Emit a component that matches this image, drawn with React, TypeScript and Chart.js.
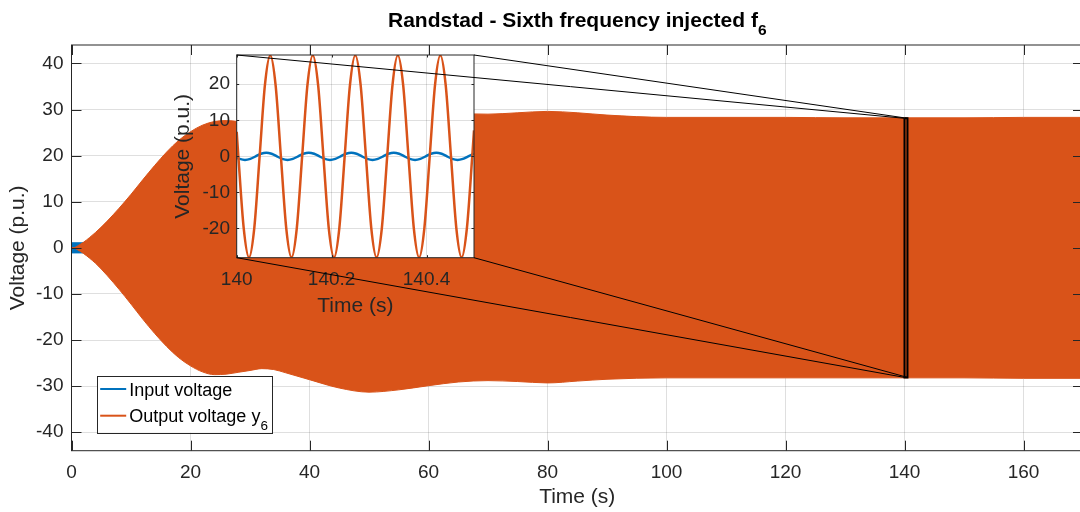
import React, { useEffect, useRef } from 'react';
import { Chart, registerables } from 'chart.js';

Chart.register(...registerables);

const BLUE = '#0072BD';
const ORANGE = '#D95319';
const AXIS = '#262626';
const GRID = 'rgba(38,38,38,0.15)';
const FONT = '"Liberation Sans", Arial, Helvetica, sans-serif';

// ---------- texts ----------
const titleMain = 'Randstad - Sixth frequency injected f';
const titleSub = '6';
const xLabel = 'Time (s)';
const yLabel = 'Voltage (p.u.)';
const legendLabels = ['Input voltage', 'Output voltage y'];
const legendSubs = ['', '6'];

// ---------- main axes ----------
const mainXRange = [0, 170];
const mainYRange = [-44, 44];
const mainXTicks = [0, 20, 40, 60, 80, 100, 120, 140, 160];
const mainXTickLabels = ['0', '20', '40', '60', '80', '100', '120', '140', '160'];
const mainYTicks = [-40, -30, -20, -10, 0, 10, 20, 30, 40];
const mainYTickLabels = ['-40', '-30', '-20', '-10', '0', '10', '20', '30', '40'];

// input voltage envelope (dense oscillation, amplitude ~1.1)
const inputTimes = [0, 170];
const inputUpper = [1.1, 1.1];
const inputLower = [-1.1, -1.1];

// output voltage y6 envelope (dense oscillation)
const outputTimes = [0, 0.5, 1, 2, 3, 4, 5, 6, 8, 10, 12, 14, 16, 18, 20, 22, 24, 26, 28, 30, 32, 34, 36, 40, 45, 50, 55, 60, 65, 70, 75, 80, 85, 90, 100, 110, 120, 130, 140, 150, 160, 170];
const outputUpper = [0, 0.05, 0.4, 1.2, 2.2, 3.3, 4.5, 5.8, 8.6, 11.6, 14.8, 17.9, 20.8, 23.3, 25.2, 26.6, 27.4, 27.6, 27.4, 27.0, 26.7, 26.9, 27.5, 28.9, 30.4, 31.0, 30.6, 29.8, 29.2, 29.0, 29.3, 29.6, 29.3, 28.8, 28.3, 28.3, 28.3, 28.2, 28.2, 28.2, 28.3, 28.3];
const outputLower = [0, -0.05, -0.4, -1.2, -2.2, -3.3, -4.6, -6.0, -9.0, -12.2, -15.5, -18.6, -21.4, -23.8, -25.6, -26.9, -27.5, -27.4, -27.0, -26.6, -26.2, -26.4, -27.1, -28.6, -30.4, -31.3, -30.8, -29.9, -29.1, -28.8, -29.0, -29.3, -28.9, -28.5, -28.2, -28.2, -28.2, -28.2, -28.2, -28.2, -28.3, -28.3];

// zoomed window
const zoomTimes = [140, 140.5];
const zoomVolts = [-28.1, 28.1];

// ---------- inset axes ----------
const insetXTicks = [140, 140.2, 140.4];
const insetXTickLabels = ['140', '140.2', '140.4'];
const insetYTicks = [-20, -10, 0, 10, 20];
const insetYTickLabels = ['-20', '-10', '0', '10', '20'];

const insetOutputTimes = [140.0, 140.0035, 140.0147, 140.0259, 140.0371, 140.0483, 140.0595, 140.0707, 140.0819, 140.0931, 140.1043, 140.1155, 140.1267, 140.1379, 140.1491, 140.1603, 140.1715, 140.1827, 140.1939, 140.2051, 140.2163, 140.2275, 140.2387, 140.2499, 140.2611, 140.2723, 140.2835, 140.2947, 140.3059, 140.3171, 140.3283, 140.3395, 140.3507, 140.3619, 140.3731, 140.3843, 140.3955, 140.4067, 140.4179, 140.4291, 140.4403, 140.4515, 140.4627, 140.4739, 140.4851, 140.4963, 140.5];
const insetOutputValues = [6.8, 0, -19.8, -28, -19.8, 0, 19.8, 28, 19.8, 0, -19.8, -28, -19.8, 0, 19.8, 28, 19.8, 0, -19.8, -28, -19.8, 0, 19.8, 28, 19.8, 0, -19.8, -28, -19.8, 0, 19.8, 28, 19.8, 0, -19.8, -28, -19.8, 0, 19.8, 28, 19.8, 0, -19.8, -28, -19.8, 0, 7.2];

const insetInputTimes = [140.0, 140.0063, 140.0175, 140.0287, 140.0399, 140.0511, 140.0623, 140.0735, 140.0847, 140.0959, 140.1071, 140.1183, 140.1295, 140.1407, 140.1519, 140.1631, 140.1743, 140.1855, 140.1966, 140.2078, 140.2190, 140.2302, 140.2414, 140.2526, 140.2638, 140.2750, 140.2862, 140.2974, 140.3086, 140.3198, 140.3310, 140.3422, 140.3534, 140.3646, 140.3758, 140.3870, 140.3982, 140.4094, 140.4206, 140.4318, 140.4430, 140.4542, 140.4654, 140.4766, 140.4878, 140.5];
const insetInputValues = [-0.35, -0.71, -1.0, -0.71, 0, 0.71, 1.0, 0.71, 0, -0.71, -1.0, -0.71, 0, 0.71, 1.0, 0.71, 0, -0.71, -1.0, -0.71, 0, 0.71, 1.0, 0.71, 0, -0.71, -1.0, -0.71, 0, 0.71, 1.0, 0.71, 0, -0.71, -1.0, -0.71, 0, 0.71, 1.0, 0.71, 0, -0.71, -1.0, -0.71, 0, 0.74];

const pts = (xs: number[], ys: number[]) => xs.map((x, i) => ({ x, y: ys[i] }));

const CANVAS_W = 1090;
const CANVAS_H = 512;

function drawBoxAndTicks(chart: any, tl: number) {
  const { ctx, chartArea: a, scales } = chart;
  ctx.save();
  ctx.strokeStyle = AXIS;
  ctx.lineWidth = 1;
  ctx.beginPath();
  for (const t of scales.x.ticks) {
    const px = Math.round(scales.x.getPixelForValue(t.value)) + 0.5;
    ctx.moveTo(px, a.bottom);
    ctx.lineTo(px, a.bottom - tl);
    ctx.moveTo(px, a.top);
    ctx.lineTo(px, a.top + tl);
  }
  for (const t of scales.y.ticks) {
    const py = Math.round(scales.y.getPixelForValue(t.value)) + 0.5;
    ctx.moveTo(a.left, py);
    ctx.lineTo(a.left + tl, py);
    ctx.moveTo(a.right, py);
    ctx.lineTo(a.right - tl, py);
  }
  ctx.stroke();
  ctx.strokeRect(a.left, a.top, a.right - a.left, a.bottom - a.top);
  ctx.restore();
}

const mainDecor = {
  id: 'mainDecor',
  afterDatasetsDraw(chart: any) {
    drawBoxAndTicks(chart, 10);
    const { ctx, chartArea: a } = chart;
    // legend (southwest)
    ctx.save();
    const fontMain = `18px ${FONT}`;
    const fontSub = `13.5px ${FONT}`;
    ctx.font = fontMain;
    const widths = legendLabels.map((l, i) => {
      ctx.font = fontMain;
      let w = ctx.measureText(l).width;
      if (legendSubs[i]) {
        ctx.font = fontSub;
        w += ctx.measureText(legendSubs[i]).width;
      }
      return w;
    });
    const boxL = a.left + 25.7;
    const boxB = a.bottom - 18;
    const boxT = boxB - 56.7;
    const textX = boxL + 32.1;
    const boxR = textX + Math.max(...widths) + 4;
    ctx.fillStyle = '#ffffff';
    ctx.fillRect(boxL, boxT, boxR - boxL, boxB - boxT);
    ctx.strokeStyle = AXIS;
    ctx.lineWidth = 1;
    ctx.strokeRect(Math.round(boxL) + 0.5, Math.round(boxT) + 0.5, Math.round(boxR - boxL), Math.round(boxB - boxT));
    const colors = [BLUE, ORANGE];
    const rowsY = [boxT + 13, boxT + 39.7];
    legendLabels.forEach((l, i) => {
      ctx.strokeStyle = colors[i];
      ctx.lineWidth = 2;
      ctx.beginPath();
      ctx.moveTo(boxL + 3, rowsY[i]);
      ctx.lineTo(boxL + 29, rowsY[i]);
      ctx.stroke();
      ctx.fillStyle = '#000000';
      ctx.font = fontMain;
      ctx.textAlign = 'left';
      ctx.textBaseline = 'alphabetic';
      const base = rowsY[i] + 6.6;
      ctx.fillText(l, textX, base);
      if (legendSubs[i]) {
        const w = ctx.measureText(l).width;
        ctx.font = fontSub;
        ctx.fillText(legendSubs[i], textX + w, base + 7.6);
      }
    });
    ctx.restore();
  },
  afterDraw(chart: any) {
    const { ctx, chartArea: a } = chart;
    ctx.save();
    const fMain = `bold 21px ${FONT}`;
    const fSub = `bold 15.5px ${FONT}`;
    ctx.font = fMain;
    const w1 = ctx.measureText(titleMain).width;
    ctx.font = fSub;
    const w2 = ctx.measureText(titleSub).width;
    const cx = (a.left + a.right) / 2;
    const x0 = cx - (w1 + w2) / 2;
    ctx.fillStyle = '#000000';
    ctx.textAlign = 'left';
    ctx.textBaseline = 'alphabetic';
    ctx.font = fMain;
    ctx.fillText(titleMain, x0, 26.7);
    ctx.font = fSub;
    ctx.fillText(titleSub, x0 + w1, 35);
    ctx.restore();
  },
};

export default function App() {
  const mainRef = useRef<HTMLCanvasElement>(null);
  const insetRef = useRef<HTMLCanvasElement>(null);

  useEffect(() => {
    if (!mainRef.current || !insetRef.current) return;
    Chart.defaults.font.family = FONT;

    const tickFont = { family: FONT, size: 19 };
    const titleFont = { family: FONT, size: 21 };

    const main = new Chart(mainRef.current, {
      type: 'line',
      data: {
        datasets: [
          {
            label: 'zoom box',
            data: [
              { x: zoomTimes[0], y: zoomVolts[1] },
              { x: zoomTimes[1], y: zoomVolts[1] },
              { x: zoomTimes[1], y: zoomVolts[0] },
              { x: zoomTimes[0], y: zoomVolts[0] },
              { x: zoomTimes[0], y: zoomVolts[1] },
            ],
            borderColor: '#000000',
            borderWidth: 2,
            pointRadius: 0,
            fill: false,
            tension: 0,
            order: 0,
          },
          {
            label: 'Output voltage y6',
            data: pts(outputTimes, outputUpper),
            borderColor: ORANGE,
            backgroundColor: ORANGE,
            borderWidth: 1,
            pointRadius: 0,
            fill: '+1',
            cubicInterpolationMode: 'monotone',
            order: 1,
          },
          {
            label: 'Output lower',
            data: pts(outputTimes, outputLower),
            borderColor: ORANGE,
            borderWidth: 1,
            pointRadius: 0,
            fill: false,
            cubicInterpolationMode: 'monotone',
            order: 1,
          },
          {
            label: 'Input voltage',
            data: pts(inputTimes, inputUpper),
            borderColor: BLUE,
            backgroundColor: BLUE,
            borderWidth: 1,
            pointRadius: 0,
            fill: '+1',
            order: 2,
          },
          {
            label: 'Input lower',
            data: pts(inputTimes, inputLower),
            borderColor: BLUE,
            borderWidth: 1,
            pointRadius: 0,
            fill: false,
            order: 2,
          },
        ],
      },
      options: {
        animation: false,
        responsive: false,
        maintainAspectRatio: false,
        devicePixelRatio: 1,
        events: [],
        layout: { padding: { left: 0, top: 45, right: CANVAS_W - 1083, bottom: 0 } },
        plugins: { legend: { display: false }, title: { display: false }, tooltip: { enabled: false } },
        scales: {
          x: {
            type: 'linear',
            min: mainXRange[0],
            max: mainXRange[1],
            afterBuildTicks: (s: any) => { s.ticks = mainXTicks.map((v) => ({ value: v })); },
            afterFit: (s: any) => { s.height = 61.3; },
            ticks: {
              callback: (_v: any, i: number) => mainXTickLabels[i],
              color: AXIS, font: tickFont, padding: 10.3, maxRotation: 0, autoSkip: false,
            },
            grid: { color: GRID, drawTicks: false },
            border: { display: false },
            title: { display: true, text: xLabel, color: AXIS, font: titleFont, padding: { top: 0, bottom: 1.7 } },
          },
          y: {
            type: 'linear',
            min: mainYRange[0],
            max: mainYRange[1],
            afterBuildTicks: (s: any) => { s.ticks = mainYTicks.map((v) => ({ value: v })); },
            afterFit: (s: any) => { s.width = 71.5; },
            ticks: {
              callback: (_v: any, i: number) => mainYTickLabels[i],
              color: AXIS, font: tickFont, padding: 8, autoSkip: false,
            },
            grid: { color: GRID, drawTicks: false },
            border: { display: false },
            title: { display: true, text: yLabel, color: AXIS, font: titleFont, padding: { top: 5.9, bottom: 0 } },
          },
        },
      },
      plugins: [mainDecor],
    } as any);

    const insetDecor = {
      id: 'insetDecor',
      beforeDraw(chart: any) {
        const { ctx, chartArea: a } = chart;
        ctx.save();
        ctx.fillStyle = '#ffffff';
        ctx.fillRect(a.left, a.top, a.right - a.left, a.bottom - a.top);
        ctx.restore();
      },
      afterDatasetsDraw(chart: any) {
        drawBoxAndTicks(chart, 2.5);
      },
      afterDraw(chart: any) {
        const { ctx, chartArea: a } = chart;
        const mx = main.scales.x;
        const my = main.scales.y;
        const l = mx.getPixelForValue(zoomTimes[0]);
        const r = mx.getPixelForValue(zoomTimes[1]);
        const t = my.getPixelForValue(zoomVolts[1]);
        const b = my.getPixelForValue(zoomVolts[0]);
        ctx.save();
        ctx.strokeStyle = '#000000';
        ctx.lineWidth = 1;
        ctx.beginPath();
        ctx.moveTo(a.left, a.top); ctx.lineTo(l, t);
        ctx.moveTo(a.right, a.top); ctx.lineTo(r, t);
        ctx.moveTo(a.left, a.bottom); ctx.lineTo(l, b);
        ctx.moveTo(a.right, a.bottom); ctx.lineTo(r, b);
        ctx.stroke();
        ctx.restore();
      },
    };

    const insetL = 236.7, insetR = 474, insetT = 55, insetB = 257.7;
    const insetYW = 70, insetXH = 62.6;

    const inset = new Chart(insetRef.current, {
      type: 'line',
      data: {
        datasets: [
          {
            label: 'Output voltage y6',
            data: pts(insetOutputTimes, insetOutputValues),
            borderColor: ORANGE,
            borderWidth: 2.5,
            pointRadius: 0,
            fill: false,
            cubicInterpolationMode: 'monotone',
            order: 0,
          },
          {
            label: 'Input voltage',
            data: pts(insetInputTimes, insetInputValues),
            borderColor: BLUE,
            borderWidth: 2.5,
            pointRadius: 0,
            fill: false,
            cubicInterpolationMode: 'monotone',
            order: 1,
          },
        ],
      },
      options: {
        animation: false,
        responsive: false,
        maintainAspectRatio: false,
        devicePixelRatio: 1,
        events: [],
        layout: {
          padding: {
            left: insetL - insetYW,
            top: insetT,
            right: CANVAS_W - insetR,
            bottom: CANVAS_H - insetB - insetXH,
          },
        },
        plugins: { legend: { display: false }, title: { display: false }, tooltip: { enabled: false } },
        scales: {
          x: {
            type: 'linear',
            min: zoomTimes[0],
            max: zoomTimes[1],
            afterBuildTicks: (s: any) => { s.ticks = insetXTicks.map((v) => ({ value: v })); },
            afterFit: (s: any) => { s.height = insetXH; },
            ticks: {
              callback: (_v: any, i: number) => insetXTickLabels[i],
              color: AXIS, font: tickFont, padding: 11, maxRotation: 0, autoSkip: false,
            },
            grid: { color: GRID, drawTicks: false },
            border: { display: false },
            title: { display: true, text: xLabel, color: AXIS, font: titleFont, padding: { top: 0, bottom: 1.7 } },
          },
          y: {
            type: 'linear',
            min: zoomVolts[0],
            max: zoomVolts[1],
            afterBuildTicks: (s: any) => { s.ticks = insetYTicks.map((v) => ({ value: v })); },
            afterFit: (s: any) => { s.width = insetYW; },
            ticks: {
              callback: (_v: any, i: number) => insetYTickLabels[i],
              color: AXIS, font: tickFont, padding: 6.7, autoSkip: false,
            },
            grid: { color: GRID, drawTicks: false },
            border: { display: false },
            title: { display: true, text: yLabel, color: AXIS, font: titleFont, padding: { top: 3.7, bottom: 0 } },
          },
        },
      },
      plugins: [insetDecor],
    } as any);

    return () => {
      inset.destroy();
      main.destroy();
    };
  }, []);

  const canvasStyle: React.CSSProperties = {
    position: 'absolute',
    left: 0,
    top: 0,
    width: CANVAS_W,
    height: CANVAS_H,
  };

  return (
    <div
      style={{
        position: 'fixed',
        left: 0,
        top: 0,
        width: 1080,
        height: 512,
        overflow: 'hidden',
        background: '#ffffff',
      }}
    >
      <canvas ref={mainRef} width={CANVAS_W} height={CANVAS_H} style={canvasStyle} />
      <canvas ref={insetRef} width={CANVAS_W} height={CANVAS_H} style={canvasStyle} />
    </div>
  );
}
